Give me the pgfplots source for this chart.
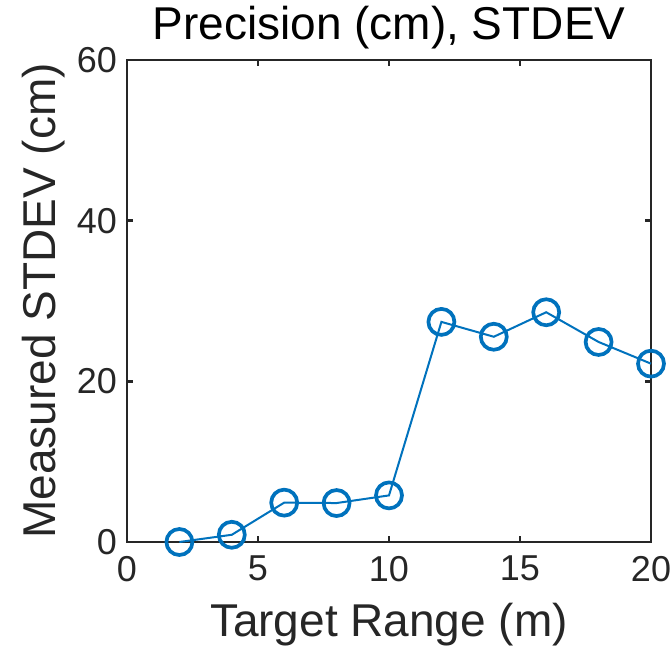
\documentclass[border=0pt]{standalone}
\usepackage{fontspec}
\setmainfont{Liberation Sans}
\usepackage{pgfplots}
\pgfplotsset{compat=1.18}
\definecolor{mblue}{rgb}{0,0.447,0.741}
\definecolor{axgray}{rgb}{0.15,0.15,0.15}
\begin{document}
\begin{tikzpicture}
\useasboundingbox (-127pt,-117pt) rectangle (544pt,542pt);
\begin{axis}[
  at={(0,0)}, anchor=south west,
  scale only axis, width=524pt, height=482pt,
  xmin=0, xmax=20, ymin=0, ymax=60,
  xtick={0,5,10,15,20}, ytick={0,20,40,60},
  tick align=inside, ticks=both,
  major tick length=6pt,
  axis line style={axgray, line width=2.7pt},
  every tick/.style={axgray, line width=2.7pt},
  tick label style={font=\fontsize{36}{40}\selectfont, text=axgray, inner sep=0pt},
  /pgf/number format/assume math mode=true,
  xticklabel style={anchor=north, yshift=-14pt},
  yticklabel style={anchor=east, xshift=-10pt},
  title={Precision (cm), STDEV},
  title style={font=\fontsize{46}{50}\selectfont, at={(axis description cs:0.5,1.0311)}, anchor=base},
  xlabel={Target Range (m)},
  ylabel={Measured STDEV (cm)},
  label style={font=\fontsize{46}{50}\selectfont, text=axgray},
  xlabel style={at={(axis description cs:0.5,-0.195)}, anchor=base},
  ylabel style={at={(axis description cs:-0.1355,0.5)}, anchor=base},
  clip=false,
]
\addplot[mblue, line width=2pt, mark=o, mark size=13pt,
  mark options={line width=3.7pt, solid}] coordinates {
  (2,0) (4,0.9) (6,4.9) (8,4.85) (10,5.8) (12,27.4) (14,25.55) (16,28.6) (18,24.9) (20,22.2)
};
\end{axis}
\end{tikzpicture}
\end{document}
